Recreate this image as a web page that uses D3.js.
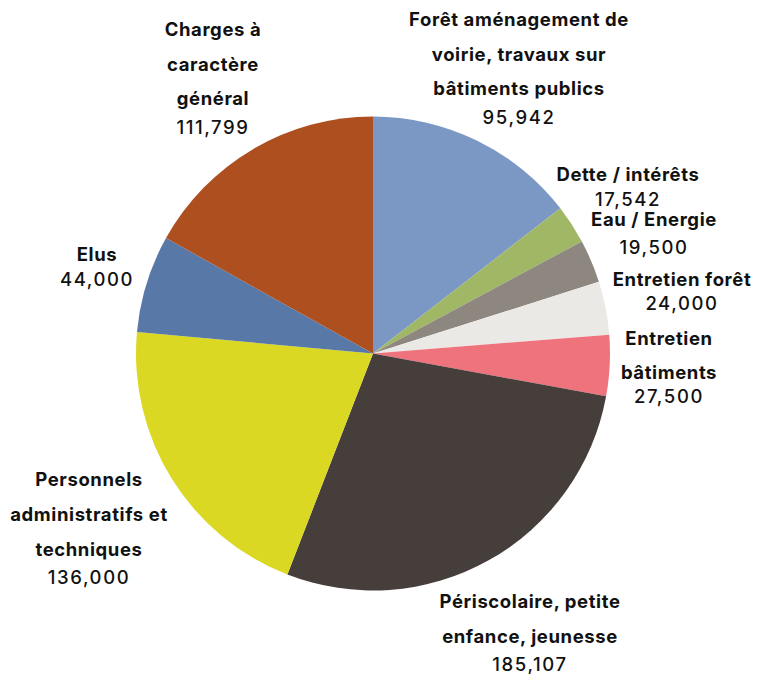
<!DOCTYPE html>
<html>
<head>
<meta charset="utf-8">
<script src="https://cdn.jsdelivr.net/npm/d3@7"></script>
<style>
  body { margin: 0; background: #fff; }
  text { font-family: Inter, "Noto Sans", sans-serif; fill: #111; }
</style>
</head>
<body>
<script>
var categories = [
    "Forêt aménagement de|voirie, travaux sur|bâtiments publics",
    "Dette / intérêts",
    "Eau / Energie",
    "Entretien forêt",
    "Entretien|bâtiments",
    "Périscolaire, petite|enfance, jeunesse",
    "Personnels|administratifs et|techniques",
    "Elus",
    "Charges à|caractère|général"
];
var values = [95942, 17542, 19500, 24000, 27500, 185107, 136000, 44000, 111799];
var colors = ["#7b98c5", "#a0b866", "#8e8780", "#ebe9e5", "#ef737c",
              "#463e3b", "#dbd823", "#5879a8", "#ad4f1f"];

// label placement: centre x, y of first line, line gap, gap before value
var labelLayout = [
    [519, 26, 34.5, 29],
    [628, 181, 0, 25],
    [654, 226, 0, 28],
    [682, 286, 0, 24],
    [669, 345, 34, 24],
    [530, 608, 35, 28],
    [89, 486, 35, 28],
    [97, 261, 0, 25],
    [213, 36, 34.5, 29]
];

var svg = d3.select("body")
    .append("svg")
    .attr("width", 757)
    .attr("height", 674)
    .style("display", "block");

var cx = 373, cy = 353.5, radius = 237;

var g = svg.append("g").attr("transform", "translate(" + cx + "," + cy + ")");

var pie = d3.pie().sort(null).value(function(d) { return d; });
var arc = d3.arc().innerRadius(0).outerRadius(radius);

g.selectAll("path")
    .data(pie(values))
    .enter()
    .append("path")
    .attr("d", arc)
    .attr("fill", function(d, i) { return colors[i]; });

var formatNumber = d3.format(",d");

categories.forEach(function(c, i) {
    var lay = labelLayout[i];
    var lines = c.split("|");
    var t = svg.append("g");
    lines.forEach(function(l, j) {
        t.append("text")
            .attr("x", lay[0])
            .attr("y", lay[1] + j * lay[2])
            .attr("text-anchor", "middle")
            .style("font-size", "18.5px")
            .style("font-weight", "700")
            .style("letter-spacing", "0.6px")
            .text(l);
    });
    t.append("text")
        .attr("x", lay[0])
        .attr("y", lay[1] + (lines.length - 1) * lay[2] + lay[3])
        .attr("text-anchor", "middle")
        .style("font-size", "18.5px")
        .style("font-weight", "500")
        .style("letter-spacing", "1.6px")
        .text(formatNumber(values[i]));
});
</script>
</body>
</html>
